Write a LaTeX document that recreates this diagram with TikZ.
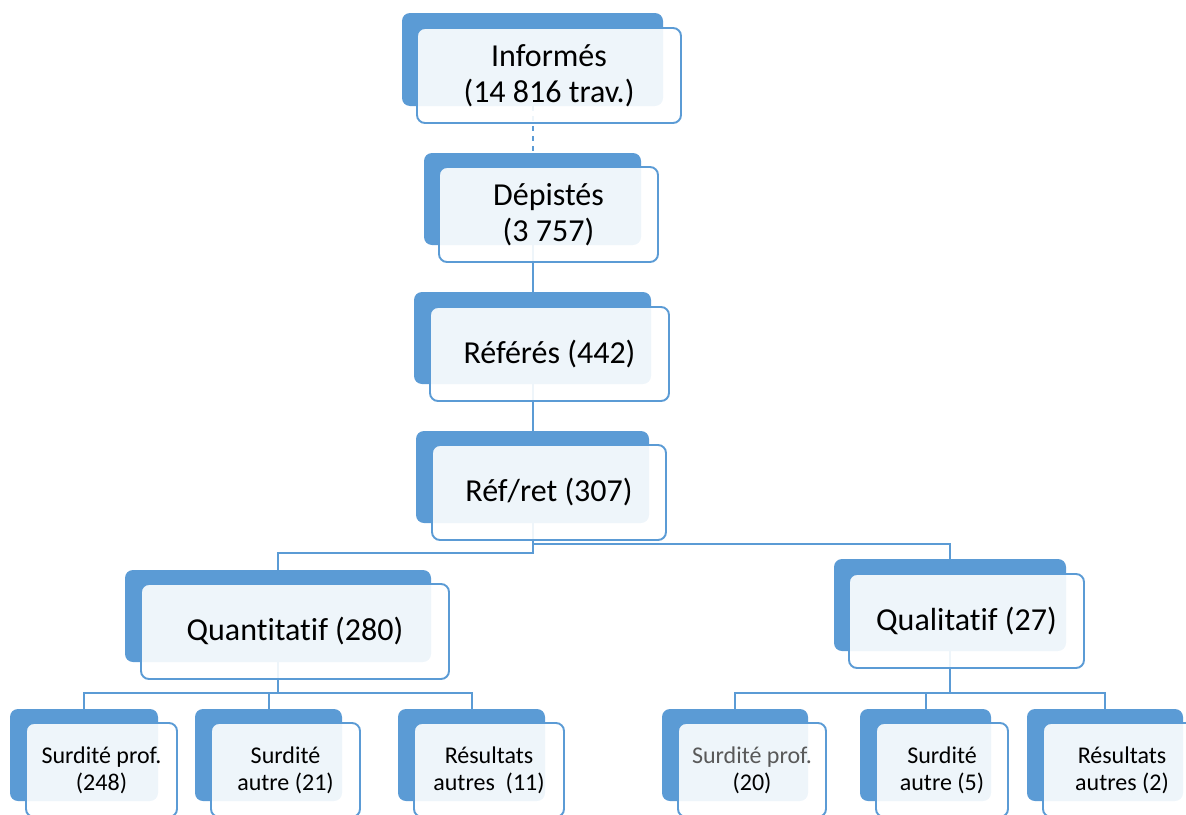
\documentclass[tikz,border=0pt]{standalone}
\usepackage{fontspec}
\setmainfont{Carlito}[Ligatures={NoCommon}]
\definecolor{acc}{HTML}{5B9BD5}
\definecolor{greytxt}{HTML}{595959}
\begin{document}
\begin{tikzpicture}[x=1pt,y=-1pt,
  back/.style={fill=acc, rounded corners=8pt, inner sep=0pt, outer sep=0pt},
  front/.style={draw=acc, line width=1.9pt, fill=white, fill opacity=0.9, text opacity=1,
    rounded corners=8pt, inner sep=0pt, outer sep=0pt, align=center,
    font=\fontsize{32}{36}\selectfont},
  small/.style={font=\fontsize{24}{27}\selectfont},
  conn/.style={draw=acc, line width=2pt}]
\useasboundingbox (0,0) rectangle (1186,814);
\clip (0,0) rectangle (1186,814);
% back boxes
\node[back, minimum width=261pt, minimum height=93pt] (infB) at (532.5,59.5) {};
\node[back, minimum width=217pt, minimum height=92pt] (depB) at (532.5,199) {};
\node[back, minimum width=237pt, minimum height=92pt] (refB) at (532.5,338) {};
\node[back, minimum width=233pt, minimum height=92pt] (rrB) at (532.5,477) {};
\node[back, minimum width=306pt, minimum height=92pt] (quanB) at (278,616) {};
\node[back, minimum width=232pt, minimum height=92pt] (qualB) at (950,605) {};
\node[back, minimum width=148pt, minimum height=92pt] (spaB) at (84,755) {};
\node[back, minimum width=147pt, minimum height=92pt] (saaB) at (268.5,755) {};
\node[back, minimum width=147pt, minimum height=92pt] (raaB) at (471.5,755) {};
\node[back, minimum width=146pt, minimum height=92pt] (spbB) at (735,755) {};
\node[back, minimum width=131pt, minimum height=92pt] (sabB) at (925.5,755) {};
\node[back, minimum width=156pt, minimum height=92pt] (rabB) at (1105,755) {};
% connectors
\draw[conn, dash pattern=on 5pt off 5pt] (infB.south) -- (depB.north);
\draw[conn] (depB.south) -- (refB.north);
\draw[conn] (refB.south) -- (rrB.north);
\draw[conn] (rrB.south) -- ++(0,30) -| (quanB.north);
\draw[conn] (rrB.south) -- ++(0,21) -| (qualB.north);
\draw[conn] (quanB.south) -- ++(0,31) -| (spaB.north);
\draw[conn] (quanB.south) -- ++(0,31) -| (saaB.north);
\draw[conn] (quanB.south) -- ++(0,31) -| (raaB.north);
\draw[conn] (qualB.south) -- ++(0,42) -| (spbB.north);
\draw[conn] (qualB.south) -- ++(0,42) -| (sabB.north);
\draw[conn] (qualB.south) -- ++(0,42) -| (rabB.north);
% front boxes
\node[front, minimum width=264pt, minimum height=95pt] (inf) at (549,75.5) {Informés\\(14 816 trav.)};
\node[front, minimum width=219pt, minimum height=95pt] (dep) at (548.5,214.5) {Dépistés\\(3 757)};
\node[front, minimum width=239pt, minimum height=94pt] (ref) at (549.5,354) {Référés (442)};
\node[front, minimum width=234pt, minimum height=95pt] (rr) at (549,492.5) {Réf/ret (307)};
\node[front, minimum width=308pt, minimum height=95pt] (quan) at (295,631.5) {Quantitatif (280)};
\node[front, minimum width=235pt, minimum height=94pt] (qual) at (966.5,621) {Qualitatif (27)};
\node[front, small, minimum width=151pt, minimum height=94pt] (spa) at (101.5,770) {Surdité prof.\\(248)};
\node[front, small, minimum width=149pt, minimum height=94pt] (saa) at (285.5,770) {Surdité\\autre (21)};
\node[front, small, minimum width=150pt, minimum height=94pt] (raa) at (489,770) {Résultats\\autres\ \ (11)};
\node[front, small, minimum width=148pt, minimum height=94pt] (spb) at (752,770) {\textcolor{greytxt}{Surdité prof.}\\(20)};
\node[front, small, minimum width=132pt, minimum height=94pt] (sab) at (942,770) {Surdité\\autre (5)};
\node[front, small, minimum width=158pt, minimum height=94pt] (rab) at (1122,770) {Résultats\\autres (2)};
\end{tikzpicture}
\end{document}
